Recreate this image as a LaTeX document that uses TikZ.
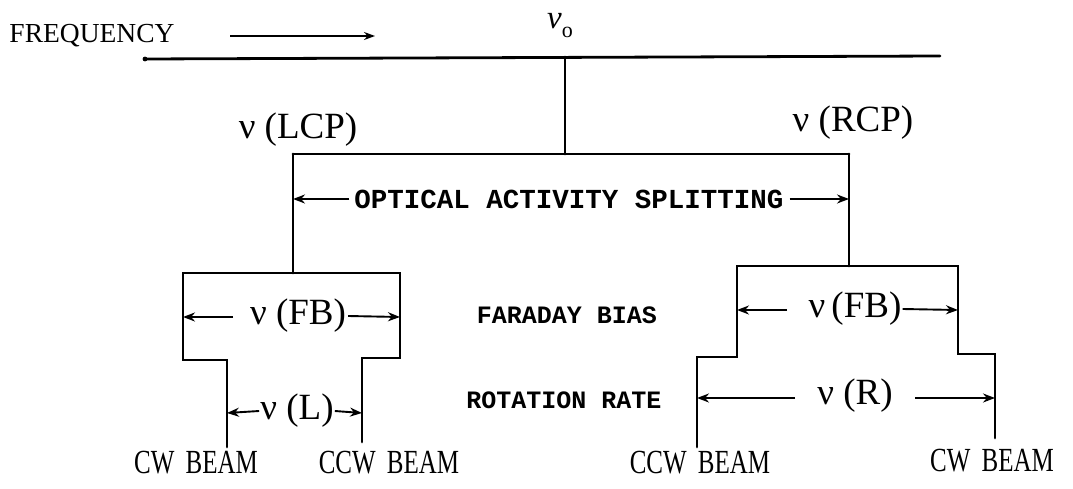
\documentclass[tikz,border=0pt]{standalone}
\usepackage{fontspec}
\setmainfont{Liberation Serif}
\newfontfamily\monob{Liberation Mono}[BoldFont={Liberation Mono Bold}]
\usetikzlibrary{arrows.meta}
\begin{document}
\begin{tikzpicture}[x=1pt,y=-1pt,
  ln/.style={line width=2.8pt,line cap=round,line join=miter},
  arr/.style={line width=1.9pt,-{Stealth[length=12pt,width=9pt]}},
  serif/.style={inner sep=0pt,font=\fontsize{27.5}{32}\selectfont},
  big/.style={inner sep=0pt,font=\fontsize{37}{42}\selectfont},
  mid/.style={inner sep=0pt,font=\fontsize{37}{42}\selectfont},
  beam/.style={inner sep=0pt,font=\fontsize{25}{30}\selectfont},
  tt/.style={inner sep=0pt,font=\monob\bfseries\fontsize{27.5}{32}\selectfont},
  ttsmall/.style={inner sep=0pt,font=\monob\bfseries\fontsize{25}{30}\selectfont}]
\useasboundingbox (0,0) rectangle (1073,489);
% frequency axis
\node[serif] (freq) at (92,36) {FREQUENCY};
\coordinate (fa1) at (230,36); \coordinate (fa2) at (375,36);
\draw[line width=1.9pt,-{Stealth[length=11pt,width=8pt]}] (fa1) -- (fa2);
\coordinate (tl) at (145,59); \coordinate (tr) at (940,56);
\draw[ln] (tl) -- (tr);
\fill (tl) circle (2.4pt);
\node[inner sep=0pt,font=\fontsize{33}{36}\selectfont] (v0) at (560,26) {\itshape ν\raisebox{-9pt}{\upshape\fontsize{22}{24}\selectfont o}};
% split
\coordinate (v0b) at (565,57); \coordinate (v0t) at (565,154);
\draw[ln] (v0b) -- (v0t);
\coordinate (lc) at (293,154); \coordinate (rc) at (849,154);
\draw[ln] (lc) -- (rc);
\node[big] (lcp) at (298,130) {ν (LCP)};
\node[big] (rcp) at (853,123) {ν (RCP)};
\coordinate (lcb) at (293,273); \coordinate (rcb) at (849,266);
\draw[ln] (lc) -- (lcb);
\draw[ln] (rc) -- (rcb);
\node[tt] (oas) at (569,199) {OPTICAL ACTIVITY SPLITTING};
\coordinate (oasl) at (293,199); \coordinate (oasr) at (849,199);
\draw[arr] (oas.west) ++(-5,0) -- (oasl);
\draw[arr] (oas.east) ++(6,0) -- (oasr);
% left Faraday box
\coordinate (L1) at (183,273); \coordinate (L2) at (400,273);
\coordinate (L3) at (183,360); \coordinate (L4) at (227,360); \coordinate (L5) at (227,447);
\coordinate (L6) at (400,358); \coordinate (L7) at (362,358); \coordinate (L8) at (362,442);
\draw[ln] (L5) -- (L4) -- (L3) -- (L1) -- (L2) -- (L6) -- (L7) -- (L8);
\node[big] (fbl) at (298,316) {ν (FB)};
\coordinate (fbla) at (183,317); \coordinate (fblb) at (400,317);
\draw[arr] (233,317) -- (fbla);
\draw[arr] (fbl.east) ++(2,0) -- (fblb);
\node[mid] (nl) at (297,411) {ν (L)};
\coordinate (nla) at (227,413); \coordinate (nlb) at (362,413);
\draw[arr] (nl.west) ++(-1,0) -- (nla);
\draw[arr] (nl.east) ++(1,0) -- (nlb);
% right Faraday box
\coordinate (R1) at (737,266); \coordinate (R2) at (958,266);
\coordinate (R3) at (737,357); \coordinate (R4) at (697,357); \coordinate (R5) at (697,447);
\coordinate (R6) at (958,354); \coordinate (R7) at (995,354); \coordinate (R8) at (995,438);
\draw[ln] (R5) -- (R4) -- (R3) -- (R1) -- (R2) -- (R6) -- (R7) -- (R8);
\node[big] (fbr) at (855,309) {ν\,(FB)};
\coordinate (fbra) at (737,310); \coordinate (fbrb) at (958,310);
\draw[arr] (787,310) -- (fbra);
\draw[arr] (fbr.east) ++(1,0) -- (fbrb);
\node[mid] (nr) at (855,396) {ν (R)};
\coordinate (nra) at (697,398); \coordinate (nrb) at (995,398);
\draw[arr] (795,398) -- (nra);
\draw[arr] (915,398) -- (nrb);
% middle labels
\node[ttsmall] (fbias) at (567,315) {FARADAY BIAS};
\node[ttsmall] (rrate) at (564,400) {ROTATION RATE};
% beams
\node[beam] (b1) at (196,463) {\scalebox{1}[1.35]{CW\hspace{0.45em}BEAM}};
\node[beam] (b2) at (389,463) {\scalebox{1}[1.35]{CCW\hspace{0.45em}BEAM}};
\node[beam] (b3) at (700,463) {\scalebox{1}[1.35]{CCW\hspace{0.45em}BEAM}};
\node[beam] (b4) at (992,461) {\scalebox{1}[1.35]{CW\hspace{0.45em}BEAM}};
\end{tikzpicture}
\end{document}
